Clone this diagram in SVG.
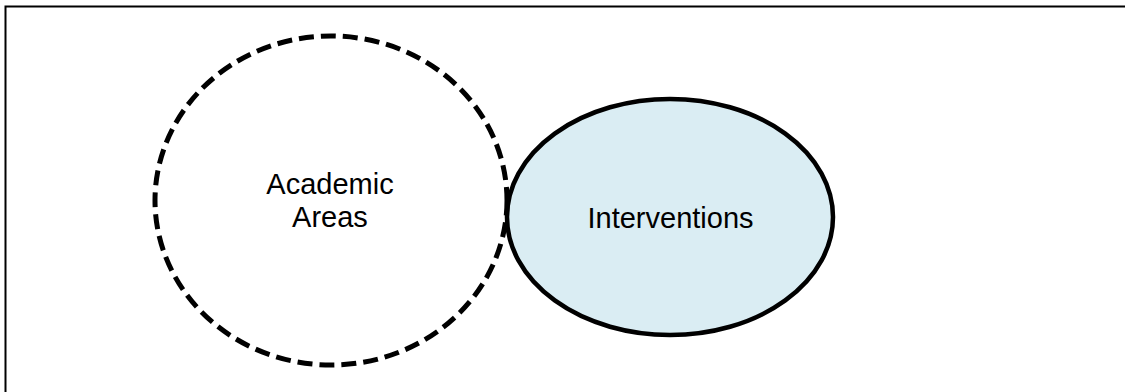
<svg xmlns="http://www.w3.org/2000/svg" width="1125" height="392" viewBox="0 0 1125 392">
  <style>
    .frame { fill: none; stroke: #000; stroke-width: 2; }
    .label { font-family: "Liberation Sans", Arial, sans-serif; font-size: 29px; fill: #000; text-anchor: middle; }
    .solid { fill: #DAEDF3; stroke: #000; stroke-width: 4.5; }
    .dashed { fill: none; stroke: #000; stroke-width: 5; stroke-dasharray: 15 7; }
  </style>
  <rect width="1125" height="392" fill="#fff"/>
  <!-- outer frame, open to the right and bottom -->
  <rect class="frame" x="5.5" y="6.5" width="1200" height="500"/>

  <g id="connectors"/>

  <g id="interventions">
    <ellipse class="solid" cx="670" cy="217" rx="163" ry="118"/>
    <text class="label" x="670.5" y="228">Interventions</text>
  </g>

  <g id="academic-areas">
    <ellipse class="dashed" cx="331" cy="200.5" rx="176" ry="164.5"/>
    <text class="label" x="330" y="194">Academic</text>
    <text class="label" x="330" y="227">Areas</text>
  </g>
</svg>
